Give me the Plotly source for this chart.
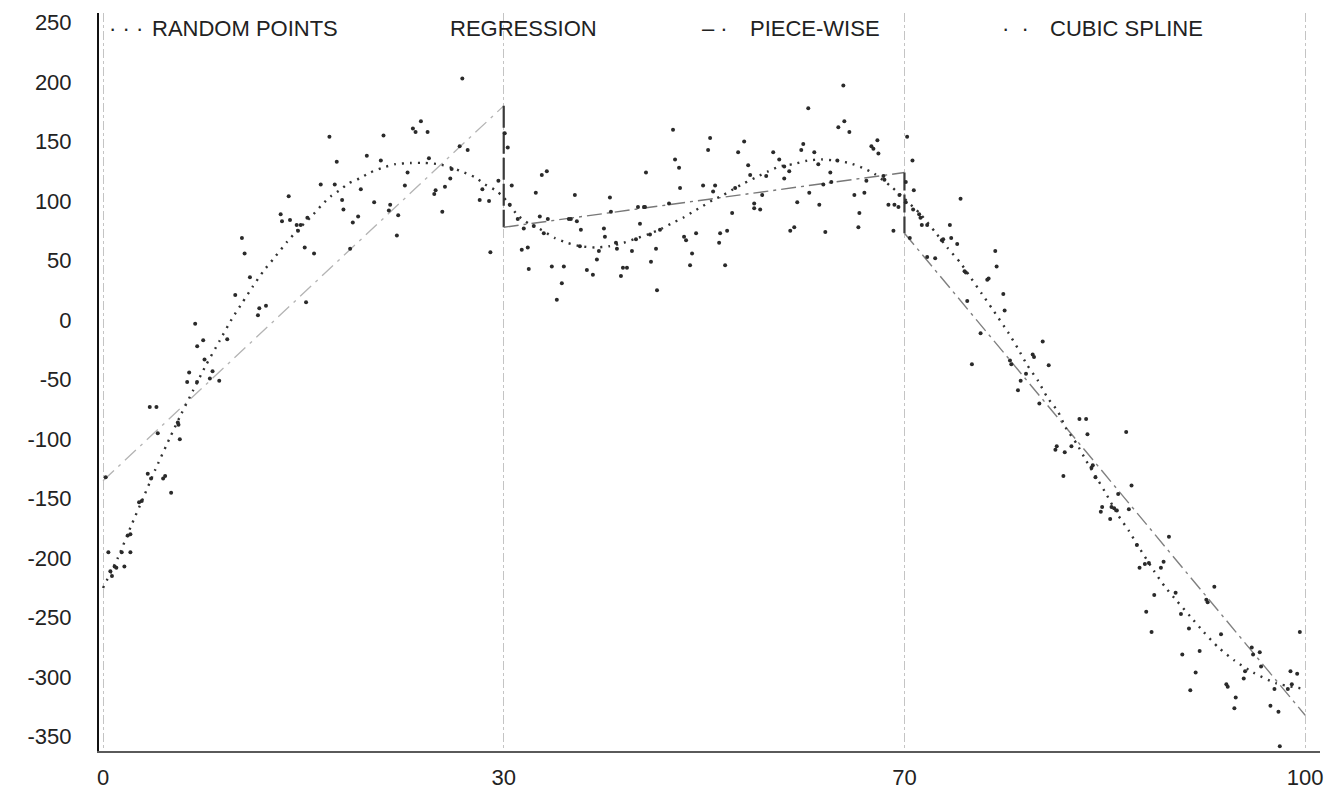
import numpy as np
import plotly.graph_objects as go

# Break points of the piece-wise fit; each piece gets an equal share of the x axis
KNOTS = [0, 30, 70, 100]
KNOT_LABELS = ["0", "30", "70", "100"]
Y_TICKS = list(range(-350, 251, 50))

# Random sample points, first piece (0-30)
SEG1_X = [0.2, 0.4, 0.55, 0.67, 0.87, 1.0, 1.4, 1.6, 1.85, 2.05, 2.05, 2.7, 2.9, 3.35, 3.5,
          3.6, 4.0, 4.1, 4.5, 4.65, 5.1, 5.6, 5.65, 5.75, 6.3, 6.45, 6.9, 7.05, 7.04, 7.5,
          7.6, 8.0, 8.2, 8.7, 9.3, 9.9, 10.4, 10.6, 11.0, 11.6, 11.7, 12.2, 13.3, 13.4, 13.9,
          14.0, 14.5, 14.6, 14.8, 15.1, 15.2, 15.3, 15.8, 16.3, 16.95, 17.35, 17.5, 17.9, 18.0,
          18.5, 18.7, 19.1, 19.3, 19.75, 20.3, 20.8, 21.0, 21.4, 21.5, 22.0, 22.1, 22.6, 22.8,
          23.2, 23.4, 23.8, 24.3, 24.4, 24.8, 24.9, 25.4, 25.6, 26.0, 26.1, 26.7, 26.9, 27.3,
          28.2, 28.4, 28.9, 29.0, 29.6]
SEG1_Y = [-132, -195, -211, -215, -207, -208, -195, -207, -181, -180, -195, -153, -152, -129, -73,
          -133, -73, -95, -133, -131, -145, -86, -88, -100, -52, -44, -3, -22, -52, -17,
          -33, -49, -43, -51, -16, 21, 69, 56, 36, 4, 10, 12, 89, 83, 104,
          84, 80, 75, 80, 61, 15, 86, 56, 114, 154, 114, 133, 101, 93,
          60, 82, 87, 110, 138, 99, 134, 155, 92, 97, 71, 88, 113, 124,
          161, 158, 167, 158, 136, 106, 109, 91, 112, 119, 127, 146, 203, 143,
          101, 110, 100, 57, 117]

# Random sample points, middle piece (30-70)
SEG2_X = [30.1, 30.4, 30.8, 30.6, 31.4, 32.0, 31.8, 32.4, 32.5, 33.0, 33.2, 33.6, 33.8, 34.3,
          34.0, 34.4, 34.8, 35.3, 35.8, 36.0, 36.5, 36.7, 37.1, 37.3, 37.7, 37.6, 38.3, 38.9,
          39.3, 39.5, 40.0, 40.1, 40.6, 40.7, 41.2, 41.3, 41.7, 41.9, 42.3, 42.8, 43.2, 43.4,
          44.0, 44.1, 43.6, 44.2, 44.6, 44.7, 45.2, 45.3, 45.6, 46.5, 46.9, 47.1, 47.5, 47.6,
          48.0, 48.2, 48.6, 48.8, 49.2, 49.9, 50.4, 50.6, 50.9, 51.1, 51.5, 51.6, 52.1, 52.3,
          52.8, 53.1, 53.4, 54.0, 54.4, 54.6, 55.0, 55.0, 55.6, 55.8, 56.2, 56.9, 57.5, 58.0,
          58.0, 58.5, 58.6, 59.0, 59.3, 59.7, 59.9, 60.4, 60.5, 61.0, 61.4, 61.5, 61.9, 62.1,
          62.6, 62.7, 63.3, 63.4, 63.9, 64.0, 64.5, 65.0, 65.4, 65.5, 66.0, 66.2, 66.7, 66.9,
          67.3, 67.4, 67.9, 68.0, 68.4, 69.0, 69.4, 68.9, 69.5]
SEG2_Y = [157, 145, 113, 97, 85, 77, 59, 61, 43, 79, 107, 87, 122, 125,
          73, 85, 45, 17, 31, 45, 85, 85, 105, 83, 76, 62, 42, 38,
          51, 58, 77, 70, 103, 91, 65, 60, 37, 44, 44, 58, 68, 95,
          95, 95, 81, 124, 72, 49, 60, 25, 76, 98, 160, 135, 128, 111,
          70, 67, 46, 56, 73, 113, 143, 153, 108, 113, 65, 73, 46, 75,
          90, 111, 141, 150, 130, 122, 98, 94, 93, 105, 121, 141, 135, 129,
          119, 125, 75, 78, 99, 143, 148, 178, 107, 141, 131, 97, 114, 74,
          124, 116, 134, 162, 197, 167, 158, 105, 78, 90, 107, 117, 146, 144,
          151, 140, 121, 118, 97, 97, 95, 75, 105]

# Random sample points, last piece (70-100)
SEG3_X = [70.1, 70.2, 70.6, 70.1, 70.7, 70.65, 71.1, 71.2, 70.4, 71.3, 71.7, 73.4, 72.8, 72.9,
          73.5, 73.95, 74.2, 71.7, 72.3, 74.5, 74.6, 76.2, 76.3, 76.8, 76.9, 74.7, 77.4, 77.5,
          75.7, 75.05, 77.9, 78.0, 79.6, 79.7, 80.35, 80.8, 79.1, 78.7, 78.5, 80.1, 83.1, 83.6,
          83.7, 86.6, 81.4, 81.3, 82.0, 82.5, 81.9, 84.0, 84.1, 84.3, 86.0, 87.0, 84.8, 84.7,
          85.5, 85.7, 85.9, 85.4, 86.8, 87.4, 89.8, 87.6, 88.0, 88.3, 89.4, 89.2, 88.7, 88.1,
          88.5, 90.3, 90.7, 91.3, 90.8, 91.8, 91.4, 92.1, 92.6, 92.7, 93.2, 93.7, 94.1, 94.2,
          94.8, 94.7, 95.5, 95.4, 96.0, 96.1, 96.6, 96.7, 97.7, 97.4, 98.0, 98.1, 98.7, 99.0,
          98.9, 99.4, 99.6]
SEG3_Y = [116, 154, 134, 99, 109, 93, 89, 86, 69, 80, 80, 80, 67, 68,
          69, 64, 102, 53, 52, 41, 40, 34, 35, 58, 45, 16, 22, 8,
          -11, -37, -34, -37, -29, -31, -18, -38, -45, -51, -59, -70, -83, -83,
          -96, -94, -106, -109, -111, -106, -131, -124, -122, -132, -146, -139, -157, -161,
          -157, -158, -160, -167, -159, -189, -182, -208, -205, -204, -203, -208, -231, -245,
          -262, -229, -247, -259, -281, -296, -311, -278, -235, -237, -224, -264, -306, -308,
          -317, -326, -295, -301, -275, -281, -279, -291, -310, -324, -329, -358, -310, -306,
          -295, -297, -262]

# Piece-wise linear fit (one straight line per piece, joined by vertical jumps)
PIECE_X = [0, 30, 30, 70, 70, 100]
PIECE_Y = [-135, 180, 78, 124, 73, -332]

# Cubic spline through the whole sample
SPLINE_X = [0, 1.1, 2.1, 3.1, 3.9, 5.0, 5.85, 6.75, 7.7, 8.7,
            9.7, 10.45, 11.2, 12.0, 12.8, 13.8, 14.6, 15.6, 16.4, 17.05,
            17.7, 18.4, 19.2, 20.0, 20.9, 21.9, 23.0, 24.1, 25.1, 26.1,
            27.05, 27.85, 28.6, 29.4, 30.0,
            31.4, 32.5, 33.5, 34.3, 35.1, 36.3, 37.7, 39.1, 40.5, 42.0,
            43.0, 44.4, 45.8, 46.7, 47.9, 48.9, 49.9, 50.9, 51.9, 52.9,
            54.0, 55.2, 56.4, 57.5, 58.9, 60.3, 61.7, 63.1, 64.5, 65.8,
            67.0, 68.7, 70.0,
            71.2, 72.3, 73.2, 74.2, 75.0, 75.8, 76.6, 77.8, 78.5, 79.2,
            80.0, 80.7, 81.5, 82.1, 82.9, 83.6, 84.3, 85.0, 86.0, 86.8,
            87.5, 88.7, 89.5, 90.4, 91.4, 92.4, 93.5, 94.7, 96.1, 97.8, 100]
SPLINE_Y = [-225, -200, -173, -147, -126, -99, -79, -59, -38, -18,
            2, 15, 28, 41, 52, 66, 76, 87, 97, 104,
            109, 115, 119, 124, 128, 131, 132, 132, 131, 128,
            124, 120, 114, 109, 103,
            88, 81, 77, 73, 69, 65, 62, 61, 62, 65,
            68, 72, 77, 81, 86, 91, 96, 101, 105, 110,
            115, 120, 125, 129, 131, 134, 135, 134, 132, 128,
            123, 112, 102,
            89, 74, 61, 48, 35, 22, 9, -11, -24, -38,
            -51, -65, -77, -91, -104, -118, -131, -144, -164, -177,
            -190, -211, -224, -236, -249, -262, -275, -286, -296, -305, -310]

# Legend rows: (sample glyphs, label, sample left px, label left px)
LEGEND = [
    ("· · ·", "RANDOM POINTS", 107, 150),
    ("", "REGRESSION", 448, 448),
    ("– ·", "PIECE-WISE", 700, 748),
    ("·  ·", "CUBIC SPLINE", 1000, 1048),
]

W, H = 1339, 800
MARGIN = dict(l=99, r=19, t=10, b=41)
FONT = "Liberation Sans, Arial, sans-serif"
INK = "#222222"

# each piece spans one axis unit
SLOTS = list(range(len(KNOTS)))

# styling of the piece-wise polyline, segment by segment (fit, jump, fit, jump, fit)
PIECE_STYLE = [
    dict(color="#b4b4b4", width=1.3, dash="15px,6px,3px,6px"),
    dict(color="#3a3a3a", width=2.2, dash="22px,4px"),
    dict(color="#787878", width=1.4, dash="15px,5px,3px,5px"),
    dict(color="#3a3a3a", width=2.2, dash="18px,4px"),
    dict(color="#808080", width=1.4, dash="15px,5px,3px,5px"),
]


def warp(x):
    return np.interp(np.asarray(x, dtype=float), KNOTS, SLOTS)


def paper_x(px):
    return (px - MARGIN["l"]) / (W - MARGIN["l"] - MARGIN["r"])


def paper_y(py):
    return 1 - (py - MARGIN["t"]) / (H - MARGIN["t"] - MARGIN["b"])


pts_x = SEG1_X + SEG2_X + SEG3_X
pts_y = SEG1_Y + SEG2_Y + SEG3_Y

fig = go.Figure()

for i, style in enumerate(PIECE_STYLE):
    fig.add_trace(go.Scatter(
        x=warp(PIECE_X[i:i + 2]), y=PIECE_Y[i:i + 2], mode="lines",
        name="PIECE-WISE", legendgroup="piece", line=style,
        showlegend=False, hoverinfo="skip",
    ))

fig.add_trace(go.Scatter(
    x=warp(SPLINE_X), y=SPLINE_Y, mode="lines", name="CUBIC SPLINE",
    line=dict(color="#333333", width=2.4, dash="2px,6px", shape="spline", smoothing=0.6),
    showlegend=False, hoverinfo="skip",
))

fig.add_trace(go.Scatter(
    x=warp(pts_x), y=pts_y, mode="markers", name="RANDOM POINTS",
    marker=dict(color="#2a2a2a", size=4),
    showlegend=False,
))

annotations = []
for sample, label, sx, lx in LEGEND:
    if sample:
        annotations.append(dict(
            x=paper_x(sx), y=paper_y(26), xref="paper", yref="paper",
            xanchor="left", yanchor="middle", text=sample, showarrow=False,
            font=dict(family=FONT, size=22, color=INK),
        ))
    annotations.append(dict(
        x=paper_x(lx), y=paper_y(26), xref="paper", yref="paper",
        xanchor="left", yanchor="middle", text=label, showarrow=False,
        font=dict(family=FONT, size=22, color=INK),
    ))

fig.update_layout(
    width=W, height=H, margin=MARGIN,
    paper_bgcolor="white", plot_bgcolor="white",
    font=dict(family=FONT, size=22, color=INK),
    showlegend=False,
    annotations=annotations,
    xaxis=dict(
        range=[-0.01, 3.037], tickmode="array", tickvals=SLOTS, ticktext=KNOT_LABELS,
        showgrid=True, gridcolor="#c4c4c4", gridwidth=1, griddash="dashdot",
        showline=True, linecolor="#5a5a5a", linewidth=1.5,
        zeroline=False, ticks="", ticklabelstandoff=6,
        tickfont=dict(size=22, color=INK),
    ),
    yaxis=dict(
        range=[-362, 258], tickmode="array", tickvals=Y_TICKS,
        ticktext=[str(v) for v in Y_TICKS],
        showgrid=False, showline=True, linecolor="#111111", linewidth=2,
        zeroline=False, ticks="", ticklabelstandoff=21,
        tickfont=dict(size=22, color=INK),
    ),
)

fig.write_html("out.html")
